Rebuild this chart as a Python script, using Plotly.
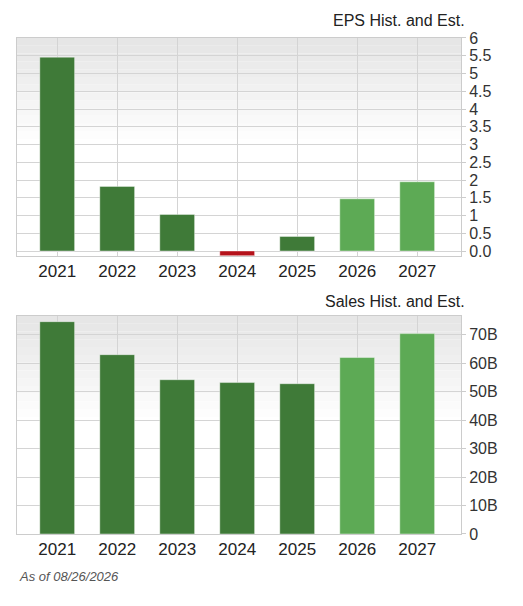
import plotly.graph_objects as go

years = ["2021", "2022", "2023", "2024", "2025", "2026", "2027"]
eps = [5.46, 1.82, 1.03, -0.13, 0.41, 1.47, 1.95]
sales = [74.6, 63.0, 54.2, 53.2, 52.8, 62.0, 70.4]
estimate = [False, False, False, False, False, True, True]
eps_ticks = [0, 0.5, 1, 1.5, 2, 2.5, 3, 3.5, 4, 4.5, 5, 5.5, 6]
eps_labels = ["0.0", "0.5", "1", "1.5", "2", "2.5", "3", "3.5", "4", "4.5", "5", "5.5", "6"]
sales_ticks = [0, 10, 20, 30, 40, 50, 60, 70]
sales_labels = ["0", "10B", "20B", "30B", "40B", "50B", "60B", "70B"]

DARK, LIGHT, RED = "#3f7a38", "#5daa55", "#b5121b"

def colors(vals):
    out = []
    for v, e in zip(vals, estimate):
        if v < 0:
            out.append(RED)
        else:
            out.append(LIGHT if e else DARK)
    return out

W, H = 523, 606
def py(ref):
    return 1 - ((ref - 17) / 0.972) / H
def px(ref):
    return (ref - 9) / W

fig = go.Figure()
fig.add_trace(go.Bar(x=years, y=eps, marker=dict(color=colors(eps), line=dict(color="rgba(255,255,255,0.4)", width=1)),
                     width=0.58, xaxis="x", yaxis="y", hoverinfo="skip"))
fig.add_trace(go.Bar(x=years, y=sales, marker=dict(color=colors(sales), line=dict(color="rgba(255,255,255,0.4)", width=1)),
                     width=0.58, xaxis="x2", yaxis="y2", hoverinfo="skip"))

xd = [px(18), px(462)]
yd1 = [py(257), py(39)]
yd2 = [py(535), py(317)]

FONT = "Liberation Sans, Arial"
common_x = dict(type="category", range=[-0.67, 6.73], showgrid=True, gridcolor="#d4d4d4",
                tickfont=dict(family=FONT, size=17, color="#222"),
                showline=True, linecolor="#cccccc", mirror=True, ticks="", fixedrange=True)
common_y = dict(side="right", showgrid=True, gridcolor="#d4d4d4", zeroline=False,
                tickfont=dict(family=FONT, size=16, color="#333"),
                showline=True, linecolor="#cccccc", mirror=True, ticks="outside",
                ticklen=4, tickcolor="#cccccc")

fig.update_layout(
    width=W, height=H, margin=dict(l=0, r=0, t=0, b=0),
    paper_bgcolor="white", plot_bgcolor="white", showlegend=False,
    xaxis=dict(domain=xd, anchor="y", **common_x),
    yaxis=dict(domain=yd1, anchor="x", range=[-0.14, 6.0], tickvals=eps_ticks, ticktext=eps_labels, **common_y),
    xaxis2=dict(domain=xd, anchor="y2", **common_x),
    yaxis2=dict(domain=yd2, anchor="x2", range=[0, 76.6], tickvals=sales_ticks, ticktext=sales_labels, **common_y),
)

shapes = []
n = 14
for ax in ["", "2"]:
    for i in range(n):
        g = int(230 + (255 - 230) * i / (n - 1))
        shapes.append(dict(type="rect", xref=f"x{ax} domain", yref=f"y{ax} domain",
                           x0=0, x1=1, y0=1 - (i + 1) * 0.5 / n, y1=1 - i * 0.5 / n,
                           fillcolor=f"rgb({g},{g},{g})", line=dict(width=0), layer="below"))
fig.update_layout(shapes=shapes)

fig.add_annotation(text="EPS Hist. and Est.", x=px(468), y=py(22), xref="paper", yref="paper",
                   xanchor="right", yanchor="middle", showarrow=False,
                   font=dict(family=FONT, size=16, color="#222"))
fig.add_annotation(text="Sales Hist. and Est.", x=px(468), y=py(303), xref="paper", yref="paper",
                   xanchor="right", yanchor="middle", showarrow=False,
                   font=dict(family=FONT, size=16, color="#222"))
fig.add_annotation(text="<i>As of 08/26/2026</i>", x=px(18), y=py(578), xref="paper", yref="paper",
                   xanchor="left", yanchor="middle", showarrow=False,
                   font=dict(family=FONT, size=13, color="#555"))

fig.write_html("out.html")
